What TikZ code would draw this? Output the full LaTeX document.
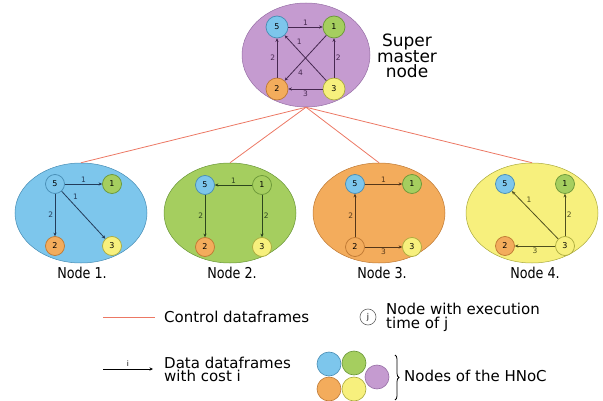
\documentclass[tikz,border=0pt]{standalone}
\usepackage{fontspec}
\setmainfont{DejaVu Sans}
\usetikzlibrary{shapes.geometric,arrows.meta,decorations.pathreplacing}
\definecolor{cblue}{RGB}{125,198,236}
\definecolor{cblueD}{RGB}{70,140,180}
\definecolor{cgreen}{RGB}{165,206,95}
\definecolor{cgreenD}{RGB}{105,150,55}
\definecolor{corange}{RGB}{243,172,92}
\definecolor{corangeD}{RGB}{190,120,50}
\definecolor{cyellow}{RGB}{247,240,125}
\definecolor{cyellowD}{RGB}{170,170,60}
\definecolor{cpurple}{RGB}{197,155,208}
\definecolor{cpurpleD}{RGB}{150,110,165}
\definecolor{cred}{RGB}{236,120,100}
\definecolor{eA}{RGB}{35,60,90}
\definecolor{eB}{RGB}{45,70,30}
\definecolor{eC}{RGB}{85,55,25}
\definecolor{eD}{RGB}{80,80,30}
\definecolor{eS}{RGB}{70,40,80}
\tikzset{
  vtx/.style={circle, minimum size=19pt, inner sep=0pt, line width=0.7pt, font=\fontsize{8}{8}\selectfont},
  svtx/.style={vtx, minimum size=22pt},
  c5/.style={fill=cblue, draw=cblueD},
  c1/.style={fill=cgreen, draw=cgreenD},
  c2/.style={fill=corange, draw=corangeD},
  c3/.style={fill=cyellow, draw=cyellowD},
  big/.style={ellipse, minimum width=132pt, minimum height=100pt, inner sep=0pt, line width=0.5pt},
  ctrl/.style={draw=cred, line width=0.8pt},
  data/.style={-{Stealth[length=3.5pt,width=3.2pt]}, line width=0.8pt},
  elab/.style={font=\fontsize{7.5}{7.5}\selectfont, inner sep=1.5pt},
  nlab/.style={font=\fontsize{15}{15}\selectfont, inner sep=0pt},
  legt/.style={font=\fontsize{15}{13.5}\selectfont, inner sep=0pt, align=left, anchor=west},
  dot/.style={circle, minimum size=24pt, inner sep=0pt, line width=0.6pt}
}
\begin{document}
\begin{tikzpicture}[x=1pt,y=-1pt]
\useasboundingbox (0,0) rectangle (603,401);
% ellipses
\node[big, fill=cpurple, draw=cpurpleD, minimum width=128pt, minimum height=104pt] (S) at (306,55) {};
\node[big, fill=cblue, draw=cblueD] (A) at (81,213) {};
\node[big, fill=cgreen, draw=cgreenD] (B) at (230,213) {};
\node[big, fill=corange, draw=corangeD] (C) at (379,213) {};
\node[big, fill=cyellow, draw=cyellowD] (D) at (532,213) {};
% control lines
\draw[ctrl] (S.south) -- (A.north);
\draw[ctrl] (S.south) -- (B.north);
\draw[ctrl] (S.south) -- (C.north);
\draw[ctrl] (S.south) -- (D.north);
% super master
\node[svtx,c5] (s5) at (277,27) {5};
\node[svtx,c1] (s1) at (334,27) {1};
\node[svtx,c2] (s2) at (277,89) {2};
\node[svtx,c3] (s3) at (334,89) {3};
\begin{scope}[eS]
\draw[data] (s5) -- node[elab,above]{1} (s1);
\draw[data] (s3) -- node[elab,pos=0.75,above right]{1} (s5);
\draw[data] (s2) -- node[elab,left]{2} (s5);
\draw[data] (s3) -- node[elab,right]{2} (s1);
\draw[data] (s1) -- node[elab,pos=0.72,below right]{4} (s2);
\draw[data] (s3) -- node[elab,below]{3} (s2);
\end{scope}
\node[font=\fontsize{17}{15.5}\selectfont, align=center, inner sep=0pt] (stxt) at (407,56) {Super\\master\\node};
% Node 1
\node[vtx,c5] (a5) at (55,184) {5};
\node[vtx,c1] (a1) at (112,184) {1};
\node[vtx,c2] (a2) at (55,246) {2};
\node[vtx,c3] (a3) at (112,246) {3};
\begin{scope}[eA]
\draw[data] (a5) -- node[elab,above]{1} (a1);
\draw[data] (a5) -- node[elab,pos=0.22,above right]{1} (a3);
\draw[data] (a5) -- node[elab,left]{2} (a2);
\end{scope}
\node[nlab] (la) at (82,273) {\scalebox{0.85}[1]{Node 1.}};
% Node 2
\node[vtx,c5] (b5) at (205,185) {5};
\node[vtx,c1] (b1) at (262,185) {1};
\node[vtx,c2] (b2) at (205,247) {2};
\node[vtx,c3] (b3) at (262,247) {3};
\begin{scope}[eB]
\draw[data] (b1) -- node[elab,above]{1} (b5);
\draw[data] (b5) -- node[elab,left]{2} (b2);
\draw[data] (b1) -- node[elab,right]{2} (b3);
\end{scope}
\node[nlab] (lb) at (232,273) {\scalebox{0.85}[1]{Node 2.}};
% Node 3
\node[vtx,c5] (c5n) at (355,184) {5};
\node[vtx,c1] (c1n) at (412,184) {1};
\node[vtx,c2] (c2n) at (355,247) {2};
\node[vtx,c3] (c3n) at (412,247) {3};
\begin{scope}[eC]
\draw[data] (c5n) -- node[elab,above]{1} (c1n);
\draw[data] (c2n) -- node[elab,left]{2} (c5n);
\draw[data] (c2n) -- node[elab,below]{3} (c3n);
\end{scope}
\node[nlab] (lc) at (382,273) {\scalebox{0.85}[1]{Node 3.}};
% Node 4
\node[vtx,c5] (d5) at (505,184) {5};
\node[vtx,c1] (d1) at (565,184) {1};
\node[vtx,c2] (d2) at (505,246) {2};
\node[vtx,c3] (d3) at (565,246) {3};
\begin{scope}[eD]
\draw[data] (d3) -- node[elab,pos=0.72,above right]{1} (d5);
\draw[data] (d3) -- node[elab,right]{2} (d1);
\draw[data] (d3) -- node[elab,below]{3} (d2);
\end{scope}
\node[nlab] (ld) at (535,273) {\scalebox{0.85}[1]{Node 4.}};
% legend
\coordinate (r1) at (103,317);
\coordinate (r2) at (155,317);
\draw[ctrl] (r1) -- (r2);
\node[legt] (t1) at (164,317) {Control dataframes};
\node[circle, draw=black!60, line width=0.6pt, minimum size=16pt, inner sep=0pt, font=\fontsize{8}{8}\selectfont] (jc) at (368,317) {j};
\node[legt] (t2) at (386,317.5) {Node with execution\\time of j};
\coordinate (i1) at (103,369);
\coordinate (i2) at (153,369);
\draw[data, black] (i1) -- node[elab,above,yshift=1pt]{i} (i2);
\node[legt] (t3) at (164,369.5) {Data dataframes\\with cost i};
\node[dot, fill=cblue, draw=cblueD] (lg5) at (329,364) {};
\node[dot, fill=cgreen, draw=cgreenD] (lg1) at (354,363) {};
\node[dot, fill=corange, draw=corangeD] (lg2) at (329,389) {};
\node[dot, fill=cyellow, draw=cyellowD] (lg3) at (354,389) {};
\node[dot, fill=cpurple, draw=cpurpleD] (lgp) at (377,377) {};
\coordinate (br1) at (395,355);
\coordinate (br2) at (395,400);
\draw[decorate, decoration={brace, amplitude=4pt}, line width=0.8pt] (br1) -- (br2);
\node[legt] (t4) at (404,376) {Nodes of the HNoC};
\end{tikzpicture}
\end{document}
